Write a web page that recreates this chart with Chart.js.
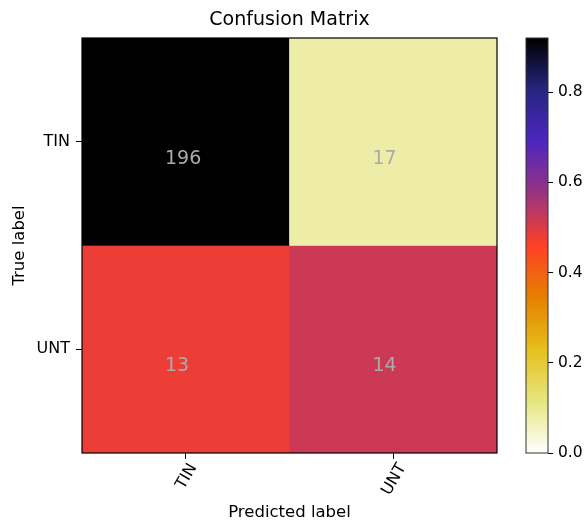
<!DOCTYPE html>
<html><head><meta charset="utf-8">
<script src="https://cdn.jsdelivr.net/npm/chart.js@4.4.0/dist/chart.umd.min.js"></script>
<style>
html,body{margin:0;padding:0;background:#fff;overflow:hidden}
#wrap{position:relative;width:585px;height:522px}
#main{position:absolute;left:0;top:0}
#cbar{position:absolute;left:497px;top:0}
</style></head><body>
<div id="wrap"><canvas id="main" width="585" height="522"></canvas><canvas id="cbar" width="88" height="522"></canvas></div>
<script>
// ---- data ----
const classLabels = ['TIN', 'UNT'];
const countsTrueTIN = [196, 17];
const countsTrueUNT = [13, 14];
const colorbarTicks = [0.0, 0.2, 0.4, 0.6, 0.8];
const titleText = 'Confusion Matrix';
const xTitle = 'Predicted label';
const yTitle = 'True label';

const FONT = "'DejaVu Sans', sans-serif";
const rows = [countsTrueTIN, countsTrueUNT];
const rowNorm = rows.map(r => { const s = r.reduce((a, b) => a + b, 0); return r.map(v => v / s); });
const vmax = Math.max(...rowNorm.flat());

// CMRmap (matplotlib) nodes
const CMR = {
  r: [[0, 0], [.125, .15], [.25, .3], [.375, .6], [.5, 1], [.625, .9], [.75, .9], [.875, .9], [1, 1]],
  g: [[0, 0], [.125, .15], [.25, .15], [.375, .2], [.5, .25], [.625, .5], [.75, .75], [.875, .9], [1, 1]],
  b: [[0, 0], [.125, .5], [.25, .75], [.375, .5], [.5, .15], [.625, 0], [.75, .1], [.875, .5], [1, 1]]
};
function chan(nodes, t) {
  for (let k = 1; k < nodes.length; k++) {
    if (t <= nodes[k][0]) {
      const [t0, v0] = nodes[k - 1], [t1, v1] = nodes[k];
      return v0 + (v1 - v0) * (t - t0) / (t1 - t0);
    }
  }
  return nodes[nodes.length - 1][1];
}
function cmapT(t) {
  t = Math.min(1, Math.max(0, t));
  return 'rgb(' + ['r', 'g', 'b'].map(c => Math.round(chan(CMR[c], t) * 255)).join(',') + ')';
}
// reversed map
function cmapR(v) { return cmapT(1 - v); }

const datasets = rows.map((r, i) => ({
  data: r.map(() => [i - 0.5, i + 0.5]),
  backgroundColor: rowNorm[i].map(v => cmapR(v / vmax)),
  borderWidth: 0,
  barPercentage: 1,
  categoryPercentage: 1,
  grouped: false
}));

const PL = 82, PR = 497, PT = 38, PB = 453;

const decor = {
  id: 'decor',
  afterDatasetsDraw(chart) {
    const ctx = chart.ctx, a = chart.chartArea;
    const xs = chart.scales.x, ys = chart.scales.y;
    ctx.save();
    // annotations
    ctx.fillStyle = '#ababab';
    ctx.font = '19px ' + FONT;
    ctx.textAlign = 'left';
    ctx.textBaseline = 'alphabetic';
    const cellW = (a.right - a.left) / classLabels.length;
    rows.forEach((r, i) => r.forEach((v, j) => {
      const x = xs.getPixelForValue(j) - 0.1 * cellW;
      const y = ys.getPixelForValue(i + 0.1) + 1;
      ctx.fillText(String(v), x, y);
    }));
    // frame
    ctx.strokeStyle = '#000';
    ctx.lineWidth = 1.2;
    ctx.strokeRect(a.left, a.top, a.right - a.left, a.bottom - a.top);
    // title
    ctx.fillStyle = '#000';
    ctx.textAlign = 'center';
    ctx.textBaseline = 'middle';
    ctx.font = '19px ' + FONT;
    ctx.fillText(titleText, (a.left + a.right) / 2, 20);
    // x title
    ctx.font = '16.5px ' + FONT;
    ctx.fillText(xTitle, (a.left + a.right) / 2, 513);
    // y title
    ctx.save();
    ctx.translate(20, (a.top + a.bottom) / 2);
    ctx.rotate(-Math.PI / 2);
    ctx.fillText(yTitle, 0, 0);
    ctx.restore();
    // rotated x tick labels
    ctx.font = '16px ' + FONT;
    const ang = 60 * Math.PI / 180;
    classLabels.forEach((lab, j) => {
      const cx = xs.getPixelForValue(j);
      const w = ctx.measureText(lab).width, h = 12;
      const bh = w * Math.sin(ang) + h * Math.cos(ang);
      const cy = a.bottom + 9 + bh / 2;
      ctx.save();
      ctx.translate(cx + 1, cy);
      ctx.rotate(-ang);
      ctx.textAlign = 'center';
      ctx.textBaseline = 'middle';
      ctx.fillText(lab, 0, 0);
      ctx.restore();
    });
    ctx.restore();
  }
};

new Chart(document.getElementById('main'), {
  type: 'bar',
  data: { labels: classLabels, datasets },
  options: {
    responsive: false,
    animation: false,
    events: [],
    layout: { padding: { left: 0, top: PT, right: 585 - PR, bottom: 0 } },
    plugins: { legend: { display: false }, tooltip: { enabled: false }, title: { display: false } },
    scales: {
      x: {
        type: 'category',
        offset: true,
        grid: { display: true, offset: false, drawOnChartArea: false, drawTicks: true, tickLength: 6, color: '#000', lineWidth: 1 },
        border: { display: false },
        ticks: { display: false },
        afterFit(s) { s.height = 522 - PB; }
      },
      y: {
        type: 'linear',
        min: -0.5, max: 1.5, reverse: true,
        afterBuildTicks(s) { s.ticks = classLabels.map((_, i) => ({ value: i })); },
        ticks: {
          callback: (v) => classLabels[v] ?? '',
          color: '#000', font: { family: FONT, size: 16 }, padding: 6, autoSkip: false
        },
        grid: { display: true, drawOnChartArea: false, drawTicks: true, tickLength: 6, color: '#000', lineWidth: 1 },
        border: { display: false },
        afterFit(s) { s.width = PL; }
      }
    }
  },
  plugins: [decor]
});

// ---- colorbar ----
const CBL = 526, CBR = 548;
const cbFrame = {
  id: 'cbFrame',
  afterDatasetsDraw(chart) {
    const ctx = chart.ctx, a = chart.chartArea;
    ctx.save();
    ctx.strokeStyle = '#333';
    ctx.lineWidth = 1;
    ctx.strokeRect(a.left, a.top, a.right - a.left, a.bottom - a.top);
    ctx.restore();
  }
};
const nodeTs = CMR.r.map(n => n[0]);
new Chart(document.getElementById('cbar'), {
  type: 'bar',
  data: {
    labels: [''],
    datasets: [{
      data: [[0, vmax]],
      borderWidth: 0,
      barPercentage: 1,
      categoryPercentage: 1,
      backgroundColor(c) {
        const a = c.chart.chartArea;
        if (!a) return '#fff';
        const g = c.chart.ctx.createLinearGradient(0, a.bottom, 0, a.top);
        nodeTs.forEach(t => g.addColorStop(1 - t, cmapT(t)));
        return g;
      }
    }]
  },
  options: {
    responsive: false,
    animation: false,
    events: [],
    layout: { padding: { left: CBL - PR, top: PT, right: 0, bottom: 522 - PB } },
    plugins: { legend: { display: false }, tooltip: { enabled: false } },
    scales: {
      x: { display: false },
      y: {
        type: 'linear', position: 'right', min: 0, max: vmax,
        afterBuildTicks(s) { s.ticks = colorbarTicks.map(v => ({ value: v })); },
        ticks: { callback: v => Number(v).toFixed(1), color: '#000', font: { family: FONT, size: 15.5 }, padding: 5 },
        grid: { display: true, drawOnChartArea: false, drawTicks: true, tickLength: 5, color: '#000', lineWidth: 1 },
        border: { display: false },
        afterFit(s) { s.width = 88 - (CBR - PR); }
      }
    }
  },
  plugins: [cbFrame]
});
</script>
</body></html>
